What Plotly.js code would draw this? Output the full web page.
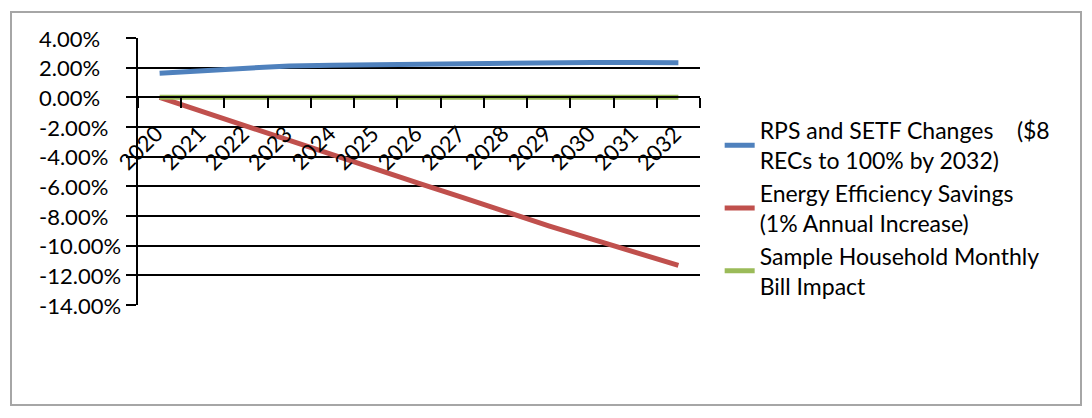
<!DOCTYPE html>
<html>
<head>
<meta charset="utf-8">
<script src="https://cdn.plot.ly/plotly-3.0.1.min.js"></script>
<style>
  html, body { margin: 0; padding: 0; background: #fff; }
  #wrap { position: relative; width: 1092px; height: 418px; }
  #chart { position: absolute; left: 0; top: 0; width: 1092px; height: 418px; }
  #frame { position: absolute; left: 10px; top: 11px; width: 1068px; height: 391px;
           border: 2px solid #a6a6a6; pointer-events: none; }
</style>
</head>
<body>
<div id="wrap">
  <div id="chart"></div>
  <div id="frame"></div>
</div>
<script>
const years = ['2020','2021','2022','2023','2024','2025','2026','2027','2028','2029','2030','2031','2032'];
const rpsSetf = [1.63, 1.81, 1.97, 2.12, 2.17, 2.21, 2.24, 2.27, 2.30, 2.33, 2.35, 2.35, 2.33];
const efficiency = [0, -0.98, -1.95, -2.92, -3.88, -4.84, -5.80, -6.74, -7.71, -8.66, -9.56, -10.45, -11.33];
const household = [0, 0, 0, 0, 0, 0, 0, 0, 0, 0, 0, 0, 0];
const seriesNames = [
  'RPS and SETF Changes\u00a0\u00a0\u00a0\u00a0($8<br>RECs to 100% by 2032)',
  'Energy Efficiency Savings<br>(1% Annual Increase)',
  'Sample Household Monthly<br>Bill Impact'
];
const seriesColors = ['#4F81BD', '#C0504D', '#9BBB59'];
const yTickVals = [4, 2, 0, -2, -4, -6, -8, -10, -12, -14];
const yTickText = ['4.00%', '2.00%', '0.00%', '-2.00%', '-4.00%', '-6.00%', '-8.00%', '-10.00%', '-12.00%', '-14.00%'];

const allSeries = [rpsSetf, efficiency, household];
const traces = allSeries.map((vals, i) => ({
  type: 'scatter', mode: 'lines', x: years, y: vals, name: seriesNames[i],
  line: { color: seriesColors[i], width: 5 }, hoverinfo: 'skip'
}));

const font = "Lato, 'Open Sans', sans-serif";
const tickFont = { family: font, size: 22, color: '#000' };

// category labels: rotated, hanging below the 0 line (where the category axis crosses)
const xLabelAnns = years.map((yr, i) => ({
  xref: 'x', yref: 'y', x: i, y: 0, text: yr, textangle: -45,
  xanchor: 'right', yanchor: 'top', xshift: 11, yshift: -20,
  showarrow: false, font: tickFont
}));
// value labels: left aligned like the reference
const yLabelAnns = yTickVals.map((v, i) => ({
  xref: 'paper', yref: 'y', x: -0.179, y: v, text: yTickText[i],
  xanchor: 'left', yanchor: 'middle', showarrow: false, font: tickFont
}));

const layout = {
  width: 1092, height: 418,
  margin: { l: 138, r: 392, t: 38, b: 113, pad: 0 },
  paper_bgcolor: 'rgba(0,0,0,0)', plot_bgcolor: 'rgba(0,0,0,0)',
  font: { family: font, color: '#000', size: 22 },
  showlegend: true,
  legend: {
    x: 1.035, xanchor: 'left', y: 0.735, yanchor: 'top',
    font: { family: font, size: 23, color: '#000' },
    bgcolor: 'rgba(0,0,0,0)', borderwidth: 0, tracegroupgap: 0, itemwidth: 30
  },
  xaxis: {
    type: 'category', categoryorder: 'array', categoryarray: years,
    range: [-0.5, years.length - 0.5], autorange: false,
    anchor: 'free', position: 14 / 18,
    showgrid: false, zeroline: false, showticklabels: false,
    showline: true, linecolor: '#000', linewidth: 2,
    ticks: 'outside', tickson: 'boundaries', ticklen: 10, tickwidth: 2, tickcolor: '#000',
    fixedrange: true
  },
  yaxis: {
    range: [-14, 4], autorange: false, tickvals: yTickVals, ticktext: yTickText, showticklabels: false,
    showgrid: true, gridcolor: '#000', gridwidth: 1.8, zeroline: false,
    showline: true, linecolor: '#000', linewidth: 2,
    ticks: 'outside', ticklen: 10, tickwidth: 2, tickcolor: '#000',
    fixedrange: true
  },
  annotations: xLabelAnns.concat(yLabelAnns)
};

Plotly.newPlot('chart', traces, layout, { staticPlot: true, displayModeBar: false });
</script>
</body>
</html>
